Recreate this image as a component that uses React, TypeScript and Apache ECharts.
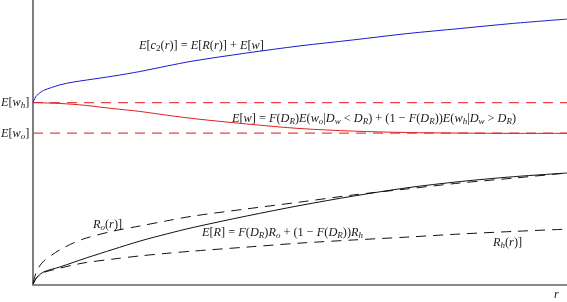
import React, { useEffect, useRef } from "react";
import * as echarts from "echarts";

// r values (x) at which the curves were read
const rValues = [0, 0.05, 0.1, 0.2, 0.35, 0.5, 0.75, 1, 1.5, 2, 2.5, 3, 4, 5, 6, 7, 8, 9, 10];
// E[c2(r)] = E[R(r)] + E[w]  (blue)
const expectedCost = [6.40, 6.60, 6.70, 6.83, 6.93, 7.02, 7.12, 7.19, 7.33, 7.49, 7.68, 7.86, 8.14, 8.39, 8.60, 8.82, 9.00, 9.18, 9.33];
// E[w] (red solid)
const expectedWage = [6.40, 6.40, 6.40, 6.39, 6.38, 6.37, 6.34, 6.30, 6.19, 6.09, 5.96, 5.84, 5.65, 5.49, 5.40, 5.35, 5.33, 5.32, 5.32];
// E[R] (black solid)
const expectedReturn = [0.03, 0.21, 0.32, 0.46, 0.55, 0.63, 0.79, 0.95, 1.25, 1.54, 1.79, 2.02, 2.42, 2.79, 3.12, 3.41, 3.63, 3.80, 3.93];
// R_o(r) (black dashed, upper)
const returnOwn = [0.07, 0.39, 0.60, 0.84, 1.05, 1.23, 1.47, 1.65, 1.89, 2.07, 2.25, 2.42, 2.67, 2.91, 3.16, 3.37, 3.58, 3.75, 3.93];
// R_h(r) (black dashed, lower)
const returnHome = [0.03, 0.21, 0.32, 0.44, 0.52, 0.59, 0.70, 0.79, 0.91, 1.02, 1.11, 1.19, 1.33, 1.47, 1.58, 1.68, 1.79, 1.88, 1.96];
// horizontal reference levels
const wageHome = 6.40; // E[w_h]
const wageOwn = 5.33; // E[w_o]
const rRange = [0, 10];

const FONT = "'Liberation Serif', 'DejaVu Serif', serif";
const INK = "#1a1a1a";

function tex(src: string): string {
  let out = "";
  let buf = "";
  let cur = "";
  const flush = () => {
    if (buf) out += `{${cur}|${buf}}`;
    buf = "";
  };
  const push = (style: string, ch: string) => {
    if (style !== cur) {
      flush();
      cur = style;
    }
    buf += ch;
  };
  let i = 0;
  while (i < src.length) {
    const c = src[i];
    if (c === "_") {
      const sub = src[i + 1];
      push(/[A-Za-z]/.test(sub) ? "si" : "sn", sub);
      i += 2;
      continue;
    }
    push(/[A-Za-z]/.test(c) ? "i" : "n", c);
    i++;
  }
  flush();
  return out;
}

const rich = {
  i: { fontFamily: FONT, fontStyle: "italic", fontSize: 12.3, lineHeight: 14, fill: INK, verticalAlign: "middle" },
  n: { fontFamily: FONT, fontStyle: "normal", fontSize: 12.3, lineHeight: 14, fill: INK, verticalAlign: "middle" },
  si: { fontFamily: FONT, fontStyle: "italic", fontSize: 9, lineHeight: 9, fill: INK, verticalAlign: "bottom" },
  sn: { fontFamily: FONT, fontStyle: "normal", fontSize: 9, lineHeight: 9, fill: INK, verticalAlign: "bottom" },
};

const labels = [
  { t: "E[c_2(r)] = E[R(r)] + E[w]", x: 139, y: 45 },
  { t: "E[w_h]", x: 1, y: 102 },
  { t: "E[w_o]", x: 1, y: 133 },
  { t: "E[w] = F(D_R)E(w_o|D_w < D_R) + (1 − F(D_R))E(w_h|D_w > D_R)", x: 232, y: 118 },
  { t: "R_o(r)]", x: 93, y: 224 },
  { t: "E[R] = F(D_R)R_o + (1 − F(D_R))R_h", x: 202, y: 232 },
  { t: "R_h(r)]", x: 493, y: 242 },
  { t: "r", x: 554, y: 294 },
];

const pairs = (ys: number[]) => rValues.map((r, k) => [r, ys[k]]);

export default function App() {
  const ref = useRef<HTMLDivElement>(null);
  useEffect(() => {
    if (!ref.current) return;
    const chart = echarts.init(ref.current, null, { renderer: "svg" });
    const lineBase = { type: "line", showSymbol: false, symbol: "none", silent: true, smooth: 0.3 };
    chart.setOption({
      animation: false,
      grid: { left: 33, right: 0, top: 0, bottom: 17 },
      xAxis: {
        type: "value",
        min: rRange[0],
        max: rRange[1],
        axisLine: { show: true, lineStyle: { color: "#888", width: 2 } },
        axisTick: { show: false },
        axisLabel: { show: false },
        splitLine: { show: false },
      },
      yAxis: {
        type: "value",
        min: 0,
        max: 10,
        axisLine: { show: true, lineStyle: { color: "#555", width: 1.5 } },
        axisTick: { show: false },
        axisLabel: { show: false },
        splitLine: { show: false },
      },
      series: [
        { ...lineBase, smooth: false, data: rRange.map((r) => [r, wageHome]), lineStyle: { color: "#ee4444", width: 1.2, type: [10, 7] } },
        { ...lineBase, smooth: false, data: rRange.map((r) => [r, wageOwn]), lineStyle: { color: "#ee4444", width: 1.2, type: [10, 7] } },
        { ...lineBase, data: pairs(expectedCost), lineStyle: { color: "#1a1ad0", width: 1 } },
        { ...lineBase, data: pairs(expectedWage), lineStyle: { color: "#e02020", width: 1 } },
        { ...lineBase, data: pairs(returnOwn), lineStyle: { color: "#111", width: 1, type: [10, 7] } },
        { ...lineBase, data: pairs(returnHome), lineStyle: { color: "#111", width: 1, type: [10, 7] } },
        { ...lineBase, data: pairs(expectedReturn), lineStyle: { color: "#111", width: 1 } },
      ],
      graphic: labels.map((l) => ({
        type: "text",
        x: l.x,
        y: l.y,
        silent: true,
        style: { text: tex(l.t), rich, align: "left", verticalAlign: "middle", fill: INK, font: `italic 12px ${FONT}` },
      })),
    });
    return () => chart.dispose();
  }, []);
  return <div ref={ref} style={{ position: "fixed", left: 0, top: 0, width: 567, height: 302 }} />;
}
